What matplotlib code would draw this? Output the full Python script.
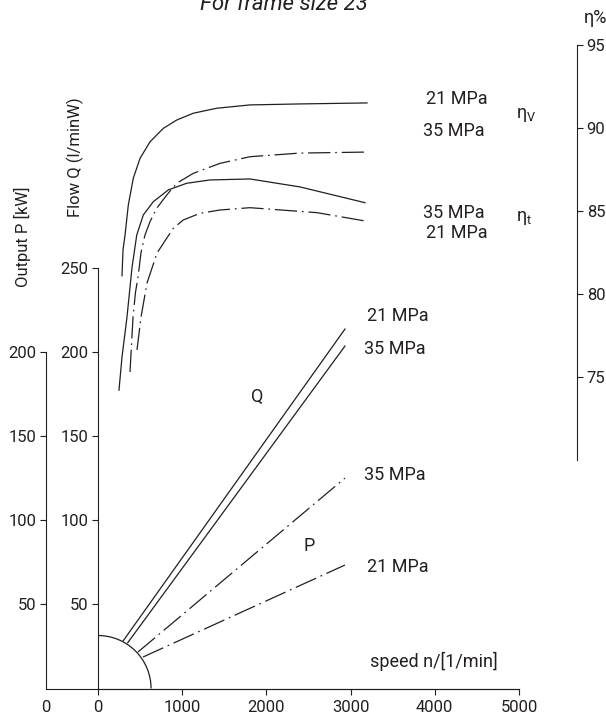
import matplotlib
matplotlib.use("Agg")
import matplotlib.pyplot as plt
from matplotlib.patches import Arc

plt.rcParams['font.family'] = ['Roboto', 'DejaVu Sans']
plt.rcParams['lines.scale_dashes'] = False

INK = '#231f20'
W, H = 606, 717
DASHDOT = (0, (16, 3.5, 1.2, 3.5))

# efficiency curves: speed [1/min] vs efficiency [%]
speed_etav_21 = [285, 297, 321, 360, 419, 499, 618, 776, 935, 1132, 1410, 1805, 2399, 3195]
etav_21 = [81.1, 82.65, 83.55, 85.36, 86.97, 88.17, 89.17, 89.98, 90.48, 90.89, 91.19, 91.39, 91.45, 91.51]

speed_etav_35 = [380, 416, 445, 475, 511, 558, 618, 697, 816, 935, 1132, 1449, 1805, 2399, 3195]
etav_35 = [75.3, 78.6, 80.1, 81.0, 82.5, 83.55, 84.36, 85.16, 85.96, 86.67, 87.27, 87.87, 88.27, 88.49, 88.55]

speed_etat_35 = [249, 285, 344, 404, 460, 538, 657, 835, 1053, 1330, 1805, 2399, 3171]
etat_35 = [74.2, 76.2, 78.6, 81.6, 83.55, 84.76, 85.56, 86.27, 86.67, 86.87, 86.93, 86.45, 85.5]

speed_etat_21 = [463, 511, 582, 701, 894, 1013, 1211, 1449, 1805, 2601, 3171]
etat_21 = [76.63, 78.61, 80.66, 82.47, 83.96, 84.46, 84.86, 85.06, 85.2, 84.9, 84.4]

# flow Q [l/min] and output P [kW] lines
speed_q21 = [300, 2933]
flow_q21 = [28.4, 213.7]
speed_q35 = [353, 2933]
flow_q35 = [27.2, 203.6]
speed_p35 = [475, 2933]
power_p35 = [21.7, 125.1]
speed_p21 = [534, 2933]
power_p21 = [18.7, 73.4]

speed_ticks = [0, 1000, 2000, 3000, 4000, 5000]
flow_ticks = [50, 100, 150, 200, 250]
power_ticks = [50, 100, 150, 200]
eta_ticks = [75, 80, 85, 90, 95]


def px_box(x0, y0, x1, y1):
    return [x0 / W, 1 - y1 / H, (x1 - x0) / W, (y1 - y0) / H]


def style_axes(a):
    a.patch.set_visible(False)
    for s in a.spines.values():
        s.set_color(INK)
        s.set_linewidth(0.8)
    a.tick_params(colors=INK, labelcolor=INK, labelsize=12, width=0.8, length=4)


fig = plt.figure(figsize=(W / 100, H / 100), dpi=100)

# output P axis (far left) also carries the base line
axP = fig.add_axes(px_box(46, 268, 519, 688.5))
style_axes(axP)
axP.set_xlim(0, 1)
axP.set_ylim(0, 250)
axP.spines[['top', 'right']].set_visible(False)
axP.spines['left'].set_bounds(0, 200)
axP.set_yticks(power_ticks)
axP.set_xticks([0])
axP.set_xticklabels(['0'])
axP.tick_params(axis='x', length=0, pad=8)
axP.tick_params(axis='y', pad=3)

# flow Q axis, speed on x
ax = fig.add_axes(px_box(98, 268, 519, 688.5))
style_axes(ax)
ax.set_xlim(0, 5000)
ax.set_ylim(0, 250)
ax.spines[['top', 'right']].set_visible(False)
ax.set_xticks(speed_ticks)
ax.set_yticks(flow_ticks)
ax.tick_params(axis='x', pad=4)
ax.tick_params(axis='y', pad=3)

# efficiency axis on the right
axE = fig.add_axes(px_box(98, 45, 577, 460))
style_axes(axE)
axE.set_xlim(0, 5000 * 479 / 421)
axE.set_ylim(70, 95)
axE.spines[['top', 'left', 'bottom']].set_visible(False)
axE.yaxis.tick_right()
axE.set_yticks(eta_ticks)
axE.set_xticks([])
axE.tick_params(axis='y', pad=3)

lw = 0.9
axE.plot(speed_etav_21, etav_21, color=INK, lw=lw, clip_on=False)
axE.plot(speed_etav_35, etav_35, color=INK, lw=lw, ls=DASHDOT, clip_on=False)
axE.plot(speed_etat_35, etat_35, color=INK, lw=lw, clip_on=False)
axE.plot(speed_etat_21, etat_21, color=INK, lw=lw, ls=DASHDOT, clip_on=False)

ax.plot(speed_q21, flow_q21, color=INK, lw=lw)
ax.plot(speed_q35, flow_q35, color=INK, lw=lw)
ax.plot(speed_p35, power_p35, color=INK, lw=lw, ls=DASHDOT)
ax.plot(speed_p21, power_p21, color=INK, lw=lw, ls=DASHDOT)
ax.add_patch(Arc((0, 0), 2 * 630, 2 * 31.5, theta1=0, theta2=90, color=INK, lw=lw))

# curve labels
kw = dict(color=INK, fontsize=13, va='center', ha='left')
axE.text(3895, 91.75, '21 MPa', **kw)
axE.text(3860, 89.82, '35 MPa', **kw)
axE.text(3860, 84.88, '35 MPa', **kw)
axE.text(3895, 83.67, '21 MPa', **kw)
axE.text(4964, 90.78, r'$\mathregular{η_V}$', **kw)
axE.text(4964, 84.58, r'$\mathregular{η_t}$', **kw)

ax.text(3195, 221.5, '21 MPa', **kw)
ax.text(3159, 201.8, '35 MPa', **kw)
ax.text(3159, 126.9, '35 MPa', **kw)
ax.text(3195, 72.2, '21 MPa', **kw)
ax.text(1888, 173.3, 'Q', color=INK, fontsize=13, ha='center', va='center')
ax.text(2506, 84.7, 'P', color=INK, fontsize=13, ha='center', va='center')
ax.text(3230, 16.3, 'speed n/[1/min]', **kw)

# axis titles
fig.text(75 / W, 1 - 157 / H, 'Flow Q (l/minW)', rotation=90, color=INK,
         fontsize=12, ha='center', va='center')
fig.text(22 / W, 1 - 237 / H, 'Output P [kW]', rotation=90, color=INK,
         fontsize=12, ha='center', va='center')
fig.text(584 / W, 1 - 18 / H, 'η%', color=INK, fontsize=13, ha='left', va='center')
fig.text(284 / W, 1 - 10 / H, 'For frame size 23', color=INK, fontsize=16,
         style='italic', ha='center', va='baseline')

fig.savefig('out.png', dpi=100, facecolor='white')
